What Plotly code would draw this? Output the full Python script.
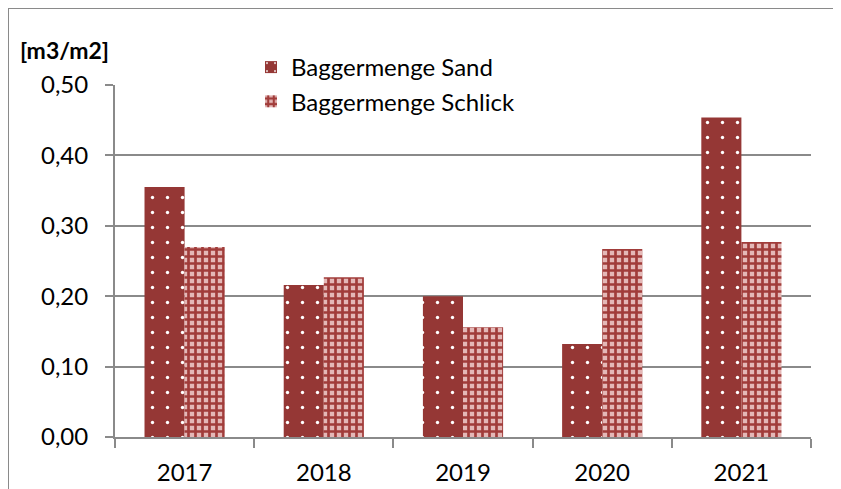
import plotly.graph_objects as go

years = ["2017", "2018", "2019", "2020", "2021"]
sand = [0.355, 0.216, 0.200, 0.132, 0.454]
schlick = [0.270, 0.227, 0.156, 0.267, 0.277]
y_ticks = [0.0, 0.1, 0.2, 0.3, 0.4, 0.5]

FONT = "Lato, Carlito, Calibri, sans-serif"
GRID = "#8a8a8a"

W, H = 833, 481
L, R, T, B = 107, 30, 77, 52
PW, PH = W - L - R, H - T - B


def px(xf):
    return (xf - L) / PW


def py(yf):
    return (H - B - yf) / PH


fig = go.Figure()
fig.add_trace(go.Bar(
    x=years, y=sand, name="Baggermenge Sand",
    marker=dict(color="#953735", line=dict(width=0),
                pattern=dict(shape=".", fgcolor="white", bgcolor="#953735",
                             size=15, solidity=0.04, fillmode="replace")),
))
fig.add_trace(go.Bar(
    x=years, y=schlick, name="Baggermenge Schlick",
    marker=dict(color="#953735", line=dict(width=0),
                pattern=dict(shape="+", fgcolor="#A13C3A", bgcolor="#E4B8B7",
                             size=7, solidity=0.62, fillmode="replace")),
))

fig.update_layout(
    width=W, height=H,
    margin=dict(l=L, r=R, t=T, b=B, autoexpand=False),
    paper_bgcolor="white", plot_bgcolor="white",
    separators=",.",
    barmode="group", bargap=0.424, bargroupgap=0,
    font=dict(family=FONT, size=24, color="black"),
    showlegend=True,
    legend=dict(x=px(243), y=py(37), xanchor="left", yanchor="top",
                bgcolor="rgba(0,0,0,0)", font=dict(size=24), itemwidth=30,
                tracegroupgap=0, traceorder="normal"),
    xaxis=dict(
        range=[-0.5, 4.5], showgrid=False, showline=True, linecolor=GRID, linewidth=2,
        ticks="outside", tickson="boundaries", ticklen=9, tickcolor=GRID, tickwidth=2,
        tickfont=dict(size=24), ticklabelstandoff=13, automargin=False,
    ),
    yaxis=dict(
        range=[0, 0.5], tickvals=y_ticks, tickformat=".2f",
        showgrid=True, gridcolor=GRID, gridwidth=2,
        showline=True, linecolor=GRID, linewidth=2,
        ticks="outside", ticklen=8, tickcolor=GRID, tickwidth=2,
        tickfont=dict(size=24), zeroline=False, ticklabelstandoff=12, automargin=False,
    ),
    annotations=[dict(
        text="<b>[m3/m2]</b>", xref="paper", yref="paper",
        x=px(10), y=py(42), xanchor="left", yanchor="middle",
        showarrow=False, font=dict(size=23, family=FONT),
    )],
    shapes=[
        dict(type="line", xref="paper", yref="paper",
             x0=px(0), x1=px(0), y0=py(0), y1=-0.3,
             line=dict(color=GRID, width=2)),
        dict(type="line", xref="paper", yref="paper",
             x0=px(0), x1=1.1, y0=py(0), y1=py(0),
             line=dict(color=GRID, width=2)),
    ],
)

fig.write_html("out.html")
